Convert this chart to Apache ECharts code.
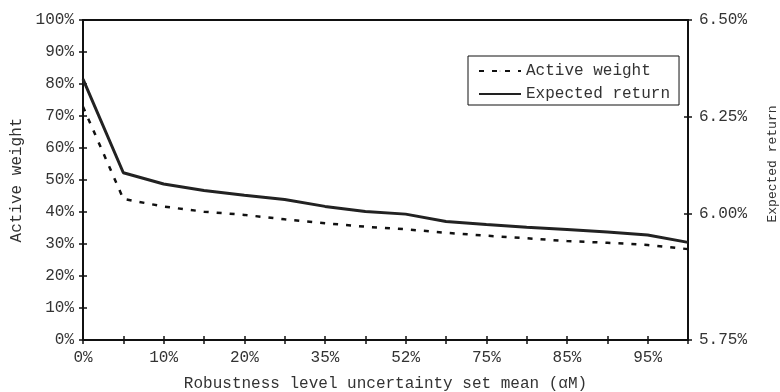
<!DOCTYPE html>
<html>
<head>
<meta charset="utf-8">
<script src="https://cdn.jsdelivr.net/npm/echarts@6/dist/echarts.min.js"></script>
<style>html,body{margin:0;padding:0;background:#fff;}#c{width:780px;height:392px;}</style>
</head>
<body>
<div id="c"></div>
<script>
const categories = ['0%','5%','10%','15%','20%','27%','35%','45%','52%','63%','75%','80%','85%','90%','95%','100%'];
const activeWeight = [72.9, 44.1, 41.7, 40.1, 39.1, 37.7, 36.5, 35.4, 34.6, 33.5, 32.6, 31.8, 30.9, 30.4, 29.7, 28.4];
const expectedReturn = [6.347, 6.105, 6.076, 6.059, 6.047, 6.036, 6.018, 6.005, 5.998, 5.979, 5.971, 5.964, 5.958, 5.952, 5.944, 5.925];
const leftMin = 0, leftMax = 100, leftStep = 10;
const rightMin = 5.6725, rightMax = 6.5;
const rightTickValues = [5.6725, 6.0, 6.25, 6.5];
const rightTickLabels = ['5.75%', '6.00%', '6.25%', '6.50%'];

const FONT = 'Liberation Mono';
const C = '#333';
const lineBlack = {color: '#111', width: 2};

const chart = echarts.init(document.getElementById('c'), null, {renderer: 'canvas'});
function rightFmt(v) {
  let best = 0, bd = Infinity;
  rightTickValues.forEach((t, i) => { const d = Math.abs(t - v); if (d < bd) { bd = d; best = i; } });
  return rightTickLabels[best];
}
chart.setOption({
  animation: false,
  textStyle: {fontFamily: FONT, color: C},
  grid: {left: 83, right: 92, top: 20, bottom: 52, containLabel: false, outerBoundsMode: 'none',
         show: true, borderColor: '#111', borderWidth: 2, backgroundColor: 'transparent'},
  legend: {
    orient: 'vertical', left: 468, top: 56,
    borderColor: '#111', borderWidth: 1, padding: [6, 9, 2, 10],
    itemWidth: 42, itemHeight: 1, itemGap: 5,
    textStyle: {fontFamily: FONT, fontSize: 16, color: C, lineHeight: 18},
    data: ['Active weight', 'Expected return']
  },
  xAxis: [{
    type: 'category', data: categories, boundaryGap: false,
    position: 'bottom',
    name: 'Robustness level uncertainty set mean (\u03b1M)', nameLocation: 'middle', nameGap: 36,
    nameTextStyle: {fontFamily: FONT, fontSize: 16, color: C},
    axisLine: {lineStyle: lineBlack},
    axisTick: {show: true, interval: 0, length: 4, lineStyle: {color: '#111', width: 1.5}},
    axisLabel: {interval: 1, fontFamily: FONT, fontSize: 16, color: C, margin: 10},
    splitLine: {show: false}
  }, {
    type: 'category', data: categories, boundaryGap: false,
    position: 'bottom', offset: 0,
    axisLine: {show: false},
    axisTick: {show: true, inside: true, interval: 0, length: 4, lineStyle: {color: '#111', width: 1.5}},
    axisLabel: {show: false},
    splitLine: {show: false}
  }],
  yAxis: [{
    type: 'value', min: leftMin, max: leftMax, interval: leftStep, position: 'left',
    name: 'Active weight', nameLocation: 'middle', nameGap: 56, nameRotate: 90,
    nameTextStyle: {fontFamily: FONT, fontSize: 16, color: C},
    axisLine: {show: true, lineStyle: lineBlack},
    axisTick: {show: true, length: 4, lineStyle: {color: '#111', width: 1.5}},
    axisLabel: {fontFamily: FONT, fontSize: 16, color: C, margin: 9, formatter: v => v + '%'},
    splitLine: {show: false}
  }, {
    type: 'value', min: rightMin, max: rightMax, position: 'right',
    name: 'Expected return', nameLocation: 'middle', nameGap: 78, nameRotate: 90,
    nameTextStyle: {fontFamily: FONT, fontSize: 13, color: C, padding: [0, 0, 0, 32]},
    axisLine: {show: true, lineStyle: lineBlack},
    axisTick: {show: true, length: 4, customValues: rightTickValues, lineStyle: {color: '#111', width: 1.5}},
    axisLabel: {fontFamily: FONT, fontSize: 16, color: C, margin: 11, customValues: rightTickValues, formatter: rightFmt},
    splitLine: {show: false}
  }, {
    type: 'value', min: leftMin, max: leftMax, interval: leftStep, position: 'left', offset: 0,
    axisLine: {show: false},
    axisTick: {show: true, inside: true, length: 4, lineStyle: {color: '#111', width: 1.5}},
    axisLabel: {show: false},
    splitLine: {show: false}
  }, {
    type: 'value', min: rightMin, max: rightMax, position: 'right', offset: 0,
    axisLine: {show: false},
    axisTick: {show: true, inside: true, length: 4, customValues: rightTickValues, lineStyle: {color: '#111', width: 1.5}},
    axisLabel: {show: false, customValues: rightTickValues},
    splitLine: {show: false}
  }],
  series: [{
    name: 'Active weight', type: 'line', data: activeWeight, xAxisIndex: 0, yAxisIndex: 0,
    symbol: 'none', color: '#111',
    lineStyle: {color: '#111', width: 2.5, type: [5, 8]}
  }, {
    name: 'Expected return', type: 'line', data: expectedReturn, xAxisIndex: 0, yAxisIndex: 1,
    symbol: 'none', color: '#222',
    lineStyle: {color: '#222', width: 3}
  }]
});
</script>
</body>
</html>
